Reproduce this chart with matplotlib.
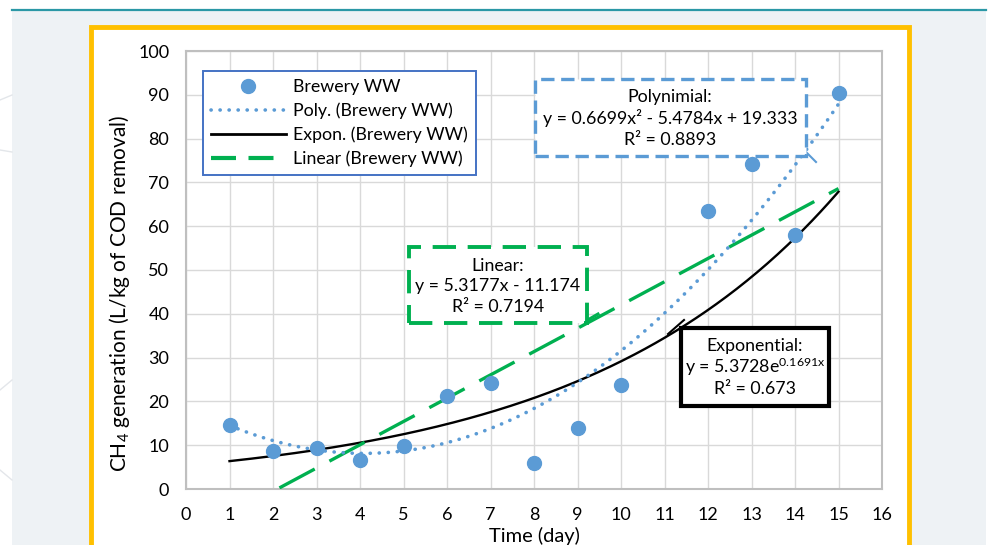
import numpy as np
import matplotlib
matplotlib.use("Agg")
import matplotlib.pyplot as plt
from matplotlib.patches import Rectangle
from matplotlib.lines import Line2D

plt.rcParams['font.family'] = ['Lato', 'DejaVu Sans']
plt.rcParams['mathtext.fontset'] = 'custom'
plt.rcParams['mathtext.rm'] = 'Lato'
plt.rcParams['mathtext.it'] = 'Lato:italic'
plt.rcParams['mathtext.bf'] = 'Lato:bold'

# ---- data ----
days = [1, 2, 3, 4, 5, 6, 7, 8, 9, 10, 12, 13, 14, 15]
ch4 = [14.6, 8.7, 9.4, 6.6, 9.8, 21.2, 24.2, 5.9, 13.9, 23.7, 63.5, 74.2, 58.0, 90.4]
poly_coef = [0.6699, -5.4784, 19.333]
lin_coef = [5.3177, -11.174]
exp_a, exp_b = 5.3728, 0.1691
x_ticks = list(range(0, 17))
y_ticks = list(range(0, 101, 10))

W, H = 991, 545
fig = plt.figure(figsize=(W / 100, H / 100), dpi=100)
fig.patch.set_facecolor('white')

def fx(px):
    return px / W

def fy(py):
    return 1 - py / H

def frect(x0, y0, x1, y1, **kw):
    r = Rectangle((fx(x0), fy(y1)), fx(x1) - fx(x0), fy(y0) - fy(y1),
                  transform=fig.transFigure, **kw)
    fig.patches.append(r)
    return r

# background panel and teal line
frect(12, 11, 986, 560, facecolor='#eef2f5', edgecolor='none', zorder=0)
fig.add_artist(Line2D([fx(12), fx(986)], [fy(10), fy(10)], color='#2b98a6', lw=1.6, zorder=1))
# faint decorations on the left margin
for (x0, y0, x1, y1) in [(0, 100, 12, 95), (0, 390, 12, 380), (0, 150, 12, 152), (0, 470, 12, 480)]:
    fig.add_artist(Line2D([fx(x0), fx(x1)], [fy(y0), fy(y1)], color='#e3e6ea', lw=1, zorder=1))
# yellow frame
frect(90.5, 27, 909, 600, facecolor='white', edgecolor='#ffc000', lw=3.5, zorder=1)

ax = fig.add_axes([fx(186), fy(489), fx(882) - fx(186), fy(51) - fy(489)])
ax.set_zorder(3)
ax.set_facecolor('none')
ax.set_xlim(0, 16)
ax.set_ylim(0, 100)
ax.set_xticks(x_ticks)
ax.set_yticks(y_ticks)
ax.grid(True, color='#d9d9d9', lw=1.0)
ax.set_axisbelow(True)
for s in ax.spines.values():
    s.set_color('#bfbfbf')
    s.set_linewidth(1.5)
ax.tick_params(length=0, labelsize=13, colors='black')
ax.tick_params(axis='x', pad=13)
ax.tick_params(axis='y', pad=12)

xs = np.linspace(1, 15, 300)
poly_y = np.polyval(poly_coef, xs)
lin_y = np.polyval(lin_coef, xs)
exp_y = exp_a * np.exp(exp_b * xs)

DOT = (0, (0.05, 2.45))
ax.plot(xs, exp_y, color='black', lw=1.7, zorder=3)
ax.plot(xs, lin_y, color='#00b050', lw=2.4, ls=(0, (12, 5)), zorder=3)
ax.plot(xs, poly_y, color='#5b9bd5', lw=2.6, ls=DOT, dash_capstyle='round', zorder=3)
ax.plot(days, ch4, 'o', color='#5b9bd5', ms=10, zorder=4)

ax.set_xlabel('Time (day)', fontsize=14.5, va='center')
ax.xaxis.set_label_coords(0.5, -(536 - 489) / 438)
ax.set_ylabel('CH$_4$ generation (L/kg of COD removal)', fontsize=15, va='center')
ax.yaxis.set_label_coords(-(186 - 119) / 696, (489 - 293) / 438)

h = [Line2D([], [], marker='o', ls='none', color='#5b9bd5', ms=10),
     Line2D([], [], color='#5b9bd5', lw=2.6, ls=DOT, dash_capstyle='round'),
     Line2D([], [], color='black', lw=2.0),
     Line2D([], [], color='#00b050', lw=3.0, ls=(0, (6, 3)))]
labels = ['Brewery WW', 'Poly. (Brewery WW)', 'Expon. (Brewery WW)', 'Linear (Brewery WW)']
leg = ax.legend(h, labels, loc='upper left',
                bbox_to_anchor=((203 - 186) / 696, (489 - 71) / 438),
                fontsize=12.8, handlelength=4.2, handletextpad=0.4, labelspacing=0.42,
                borderpad=0.45, borderaxespad=0, fancybox=False, framealpha=1,
                edgecolor='#4472c4')
leg.get_frame().set_linewidth(1.4)
leg.set_zorder(6)

# annotation boxes (pixel layout)
def box(x0, y0, x1, y1, color, lw, dashes=None):
    r = Rectangle((fx(x0), fy(y1)), fx(x1) - fx(x0), fy(y0) - fy(y1),
                  transform=fig.transFigure, facecolor='white', edgecolor=color, lw=lw, zorder=7)
    if dashes is not None:
        r.set_linestyle((0, dashes))
    fig.add_artist(r)

def lines_text(xc, ys, texts):
    for yy, t in zip(ys, texts):
        fig.text(fx(xc), fy(yy), t, ha='center', va='center', fontsize=12.8, zorder=8)

# polynomial
fig.add_artist(Line2D([fx(806), fx(816)], [fy(152), fy(162)], color='#5b9bd5', lw=1.5, zorder=6))
box(535, 79, 806, 156, '#5b9bd5', 2.4, (4, 2))
lines_text(670, [97, 118, 140], ['Polynimial:', 'y = 0.6699x² - 5.4784x + 19.333', 'R² = 0.8893'])
# linear
fig.add_artist(Line2D([fx(586), fx(598)], [fy(321), fy(314)], color='#00b050', lw=2.2, zorder=6))
box(409, 247, 587, 323, '#00b050', 2.8, (6, 3))
lines_text(498, [266, 286, 307], ['Linear:', 'y = 5.3177x - 11.174', 'R² = 0.7194'])
# exponential
fig.add_artist(Line2D([fx(668), fx(684)], [fy(334), fy(320)], color='black', lw=1.5, zorder=6))
box(681, 328, 829, 406, 'black', 3.0)
lines_text(755, [346, 367, 389], ['Exponential:', 'y = 5.3728e$^{\\mathrm{0.1691x}}$', 'R² = 0.673'])

fig.savefig('out.png', dpi=100, facecolor=fig.get_facecolor())
